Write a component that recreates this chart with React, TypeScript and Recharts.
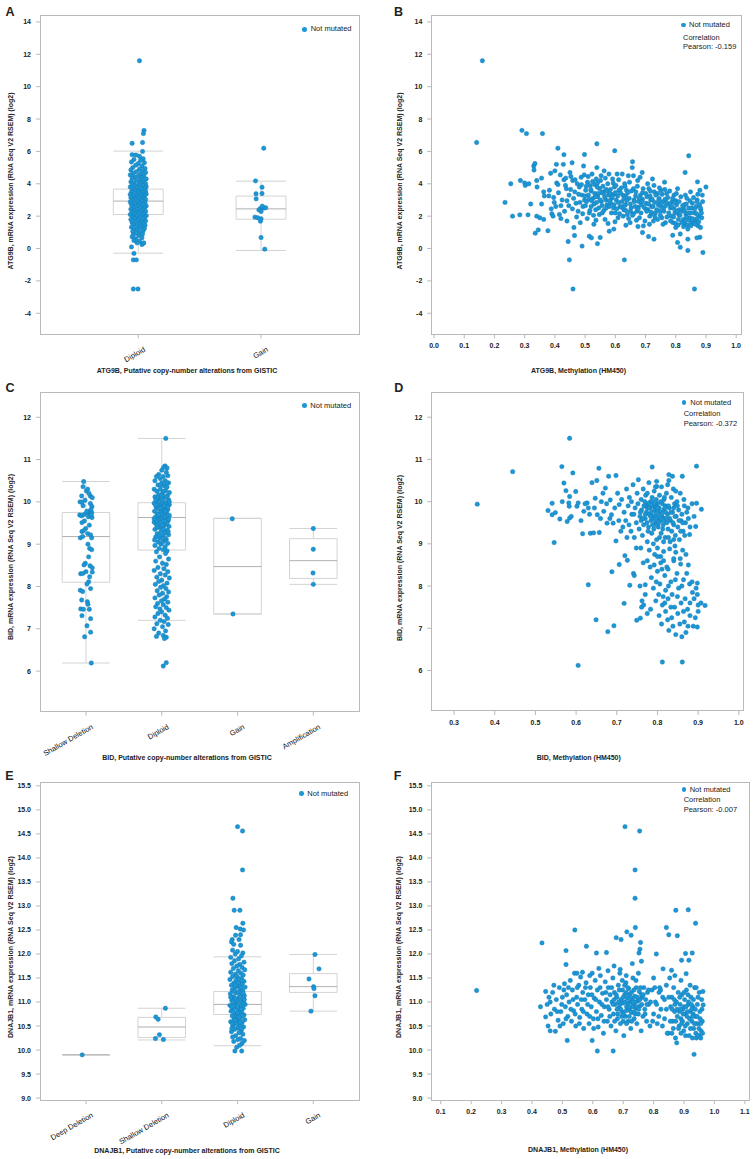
import React from "react";
import { ScatterChart, Scatter, XAxis, YAxis, ReferenceArea, ReferenceLine } from "recharts";

const FONT = "'Liberation Sans', Arial, Helvetica, sans-serif";
const DOT = "#1c97d6";
const DOT_EDGE = "#1479b4";
const FRAME = "#b9b9b9";
const BOX = "#d3d3d3";
const MED = "#b0b0b0";
const TXT = "#222";

type Pt = [number, number];

// ---------- Panel A: ATG9B by copy number ----------
const A_CATS = ["Diploid", "Gain"];
// [low whisker, q1, median, q3, high whisker]
const A_BOXES = [
  [-0.29, 2.1, 2.93, 3.67, 6.02],
  [-0.12, 1.81, 2.45, 3.24, 4.16],
];
const A_DIPLOID: Pt[] = [
  [0.01, 11.6], [0.047, 7.3], [0.042, 7.1], [-0.05, 6.5], [0.035, 6.55], [0.035, 6.0],
  [-0.05, 5.8], [-0.02, 5.78], [0.01, 5.7], [0.04, 5.55], [-0.035, 5.5], [0.02, 5.45], [-0.055, 5.35],
  [0.05, 5.3], [0.0, 5.25], [-0.02, 5.15], [0.03, 5.1], [-0.045, 5.0], [0.055, 4.95], [0.01, 4.9],
  [-0.06, 4.85], [0.035, 4.8], [-0.015, 4.75], [0.06, 4.7], [-0.04, 4.65], [0.02, 4.6], [-0.065, 4.55],
  [0.045, 4.5], [0.0, 4.48], [-0.03, 4.42], [0.03, 4.38], [-0.05, 4.33], [0.065, 4.3], [0.015, 4.25],
  [-0.015, 4.2], [0.045, 4.15], [-0.06, 4.12], [0.025, 4.08], [-0.035, 4.04], [0.06, 4.0], [0.005, 3.97],
  [-0.05, 3.93], [0.04, 3.9], [-0.02, 3.86], [0.065, 3.82], [-0.065, 3.8], [0.02, 3.77], [-0.01, 3.73],
  [0.05, 3.7], [-0.045, 3.67], [0.03, 3.63], [-0.025, 3.6], [0.06, 3.56], [0.0, 3.53], [-0.055, 3.5],
  [0.04, 3.47], [-0.03, 3.44], [0.015, 3.4], [0.065, 3.37], [-0.065, 3.34], [0.03, 3.3], [-0.01, 3.27],
  [0.05, 3.24], [-0.04, 3.2], [0.005, 3.17], [-0.06, 3.13], [0.045, 3.1], [-0.02, 3.07], [0.06, 3.03],
  [0.02, 3.0], [-0.045, 2.97], [0.035, 2.93], [-0.005, 2.9], [-0.065, 2.87], [0.055, 2.84], [0.015, 2.8],
  [-0.03, 2.77], [0.04, 2.73], [-0.055, 2.7], [0.0, 2.67], [0.065, 2.63], [-0.02, 2.6], [0.03, 2.57],
  [-0.045, 2.53], [0.05, 2.5], [0.01, 2.47], [-0.06, 2.43], [-0.01, 2.4], [0.04, 2.37], [-0.035, 2.33],
  [0.06, 2.3], [0.02, 2.27], [-0.05, 2.23], [0.0, 2.2], [0.045, 2.16], [-0.025, 2.13], [-0.065, 2.1],
  [0.03, 2.07], [0.065, 2.03], [-0.01, 2.0], [-0.045, 1.96], [0.015, 1.93], [0.05, 1.9], [-0.03, 1.86],
  [0.035, 1.82], [-0.06, 1.79], [0.0, 1.75], [0.06, 1.71], [-0.02, 1.68], [0.025, 1.64], [-0.05, 1.6],
  [0.045, 1.56], [0.005, 1.52], [-0.035, 1.48], [0.055, 1.44], [-0.01, 1.4], [0.03, 1.36], [-0.055, 1.32],
  [0.01, 1.28], [0.05, 1.24], [-0.03, 1.2], [-0.005, 1.15], [0.04, 1.1], [-0.045, 1.05], [0.02, 1.0],
  [-0.015, 0.95], [0.035, 0.9], [-0.04, 0.85], [0.005, 0.8], [-0.05, 0.72], [0.03, 0.66], [-0.02, 0.6],
  [-0.035, 0.5], [0.01, 0.45], [-0.01, 0.35], [0.04, 0.32], [-0.055, 0.1], [0.03, 0.25], [0.045, 0.35],
  [-0.035, -0.3], [-0.04, -0.7], [-0.015, -0.7], [-0.04, -2.5], [-0.002, -2.5],
];
const A_GAIN: Pt[] = [
  [0.022, 6.2], [-0.045, 4.18], [0.008, 3.79], [-0.041, 3.38], [0.008, 3.4], [-0.04, 3.07],
  [-0.005, 2.47], [-0.018, 2.39], [0.022, 2.5], [0.038, 2.52], [0.0, 2.29], [-0.05, 1.94],
  [-0.028, 1.9], [-0.005, 1.69], [0.0, 1.84], [0.0, 0.68], [0.03, -0.04], [0.01, 2.62],
];

// ---------- Panel B: ATG9B vs methylation ----------
const B_POINTS: Pt[] = [
  [0.16, 11.6], [0.141, 6.55], [0.291, 7.3], [0.306, 7.1], [0.359, 7.1],
  [0.235, 2.85], [0.254, 4.0], [0.26, 2.0], [0.284, 2.08], [0.286, 4.2], [0.3, 4.05], [0.302, 3.9],
  [0.314, 4.0], [0.311, 2.08], [0.32, 2.75], [0.33, 5.1], [0.334, 5.25], [0.331, 4.85], [0.335, 0.95],
  [0.34, 4.2], [0.341, 3.8], [0.34, 2.0], [0.345, 1.15], [0.35, 1.9], [0.356, 4.35], [0.356, 2.75],
  [0.363, 1.8], [0.363, 3.5], [0.365, 3.25], [0.377, 1.1], [0.38, 3.25], [0.386, 4.65], [0.39, 2.15],
  [0.394, 2.0], [0.398, 2.85], [0.4, 4.8], [0.405, 5.2], [0.41, 6.2], [0.406, 4.05], [0.41, 3.95],
  [0.415, 2.1], [0.42, 1.85], [0.42, 2.65], [0.428, 5.2], [0.43, 5.8], [0.43, 4.25], [0.436, 4.35],
  [0.435, 3.9], [0.44, 2.95], [0.44, 1.7], [0.444, 0.43], [0.448, -0.7], [0.45, 4.7], [0.453, 4.45],
  [0.457, 5.3], [0.459, 4.2], [0.46, -2.5], [0.463, 1.3], [0.465, 0.8], [0.49, 0.15],
  [0.63, -0.7], [0.862, -2.5], [0.89, -0.25], [0.84, -0.12], [0.831, 4.7], [0.843, 5.73], [0.872, 4.12],
  [0.9, 3.8], [0.598, 6.04], [0.539, 6.47], [0.657, 5.36], [0.498, 5.81],
  [0.541, 0.3], [0.514, 0.76], [0.521, 0.66], [0.55, 0.68], [0.58, 1.07], [0.595, 1.2], [0.635, 1.44],
  [0.675, 1.36], [0.69, 0.99], [0.71, 0.74], [0.728, 0.58], [0.79, 0.82], [0.806, 0.37], [0.815, 0.08],
  [0.84, 0.58], [0.88, 0.7], [0.87, 0.66],
  [0.462, 3.1], [0.466, 3.5], [0.47, 2.8], [0.474, 4.0], [0.477, 2.3], [0.481, 3.8], [0.484, 1.6],
  [0.487, 4.4], [0.49, 3.3], [0.493, 2.6], [0.495, 5.1], [0.498, 3.0],
  [0.502, 3.6], [0.505, 2.9], [0.508, 4.1], [0.511, 3.3], [0.514, 2.2], [0.517, 3.9], [0.52, 2.6],
  [0.523, 4.6], [0.526, 3.1], [0.529, 1.5], [0.532, 3.4], [0.535, 2.4], [0.537, 4.3], [0.539, 5.0],
  [0.542, 3.2], [0.545, 2.5], [0.548, 3.7], [0.551, 4.2], [0.554, 2.9], [0.557, 2.2], [0.56, 3.5],
  [0.563, 4.8], [0.566, 1.8], [0.569, 3.0], [0.572, 2.7], [0.575, 4.0], [0.578, 3.3],
  [0.582, 3.4], [0.585, 2.8], [0.588, 3.1], [0.591, 4.3], [0.594, 2.5], [0.597, 3.8], [0.6, 2.2],
  [0.603, 3.0], [0.606, 4.6], [0.609, 1.9], [0.612, 3.6], [0.616, 2.6],
  [0.622, 2.9], [0.625, 3.3], [0.628, 2.4], [0.631, 4.0], [0.634, 2.7], [0.637, 3.6], [0.64, 2.1],
  [0.643, 4.5], [0.646, 3.1], [0.649, 1.6], [0.652, 2.5], [0.656, 5.0],
  [0.662, 3.0], [0.665, 2.6], [0.668, 3.5], [0.671, 2.3], [0.674, 4.2], [0.677, 2.9], [0.68, 1.9],
  [0.683, 3.3], [0.686, 2.7], [0.689, 4.7], [0.693, 1.4],
  [0.702, 2.8], [0.705, 3.2], [0.708, 2.4], [0.711, 3.7], [0.714, 2.0], [0.717, 3.0], [0.72, 2.6],
  [0.723, 4.3], [0.726, 1.7], [0.729, 3.5], [0.733, 2.2],
  [0.742, 2.7], [0.745, 3.1], [0.748, 2.3], [0.751, 3.6], [0.754, 1.9], [0.757, 2.9], [0.76, 2.5],
  [0.763, 4.1], [0.766, 1.6], [0.77, 3.4],
  [0.782, 2.5], [0.785, 2.0], [0.788, 2.9], [0.791, 1.6], [0.794, 3.3], [0.797, 2.2], [0.8, 1.3],
  [0.803, 2.7], [0.806, 3.7], [0.809, 1.8], [0.812, 2.4], [0.815, 0.9],
  [0.822, 2.3], [0.825, 1.8], [0.828, 2.7], [0.831, 1.5], [0.834, 2.1], [0.837, 3.1], [0.84, 1.2],
  [0.843, 2.5], [0.846, 1.9], [0.849, 3.5], [0.852, 1.6], [0.855, 2.8],
  [0.862, 2.2], [0.865, 1.7], [0.868, 2.6], [0.871, 3.0], [0.874, 1.4], [0.877, 2.0], [0.88, 3.6],
  [0.883, 2.4], [0.886, 1.9], [0.889, 2.9],
  [0.5, 3.25], [0.52, 3.55], [0.54, 3.8], [0.555, 3.45], [0.565, 3.15], [0.58, 2.6], [0.595, 3.35],
  [0.61, 2.85], [0.62, 3.75], [0.635, 3.25], [0.65, 2.3], [0.66, 3.7], [0.675, 2.55], [0.69, 3.05],
  [0.7, 2.45], [0.715, 3.25], [0.73, 2.85], [0.75, 2.6], [0.765, 3.05], [0.78, 2.75], [0.795, 2.45],
  [0.81, 2.1], [0.825, 2.55], [0.835, 1.95], [0.85, 2.2], [0.86, 1.55], [0.53, 2.75], [0.57, 3.65],
  [0.6, 3.45], [0.63, 2.65], [0.66, 2.15], [0.69, 3.45], [0.72, 2.15], [0.74, 3.4], [0.77, 2.85],
  [0.8, 2.95], [0.83, 1.7], [0.87, 1.85],
];
const B_POINTS_MORE: Pt[] = [
  [0.382, 3.6], [0.388, 2.45], [0.396, 3.15], [0.403, 2.6], [0.412, 3.45], [0.418, 4.55], [0.424, 3.0],
  [0.432, 2.3], [0.438, 3.7], [0.446, 2.65], [0.447, 3.3],
  [0.452, 3.65], [0.458, 2.45], [0.467, 4.25], [0.472, 1.95], [0.479, 3.35], [0.483, 2.85], [0.488, 3.95],
  [0.492, 2.15], [0.497, 4.55], [0.501, 2.65], [0.504, 3.85], [0.507, 1.85], [0.51, 4.45], [0.513, 3.05],
  [0.516, 2.35], [0.519, 3.65], [0.522, 2.95], [0.525, 4.15], [0.528, 2.05], [0.531, 3.95], [0.534, 3.2],
  [0.536, 1.75], [0.538, 2.85], [0.541, 4.05], [0.544, 3.4], [0.547, 2.1], [0.55, 3.0], [0.553, 4.5],
  [0.556, 2.65], [0.559, 3.85], [0.562, 2.35], [0.564, 3.3], [0.567, 4.35], [0.57, 2.5], [0.573, 3.55],
  [0.576, 1.55], [0.579, 4.6], [0.581, 2.95], [0.584, 3.65], [0.587, 2.2], [0.59, 3.2], [0.593, 4.05],
  [0.596, 2.7], [0.599, 1.65], [0.602, 3.9], [0.605, 2.45], [0.608, 3.25], [0.611, 4.25], [0.614, 2.15],
  [0.617, 3.45], [0.62, 2.55], [0.623, 4.6], [0.626, 2.0], [0.629, 3.1], [0.632, 3.85], [0.635, 2.35],
  [0.638, 2.95], [0.641, 3.45], [0.644, 1.85], [0.647, 4.1], [0.65, 2.75], [0.653, 3.55], [0.657, 2.05],
  [0.66, 4.5], [0.663, 2.9], [0.667, 3.25], [0.67, 1.75], [0.673, 3.85], [0.676, 2.45], [0.679, 3.1],
  [0.682, 4.4], [0.685, 2.2], [0.688, 2.9], [0.692, 3.7], [0.695, 2.55], [0.698, 1.7], [0.701, 3.4],
  [0.704, 2.3], [0.707, 4.0], [0.71, 2.75], [0.713, 1.5], [0.716, 3.55], [0.719, 2.25], [0.722, 3.05],
  [0.725, 2.6], [0.728, 3.9], [0.731, 1.95], [0.734, 3.3], [0.737, 2.4], [0.74, 1.8], [0.743, 2.95],
  [0.746, 3.75], [0.749, 2.05], [0.752, 2.75], [0.755, 3.35], [0.758, 1.5], [0.761, 2.3], [0.764, 3.65],
  [0.767, 2.65], [0.771, 1.95], [0.774, 3.15], [0.777, 2.2], [0.78, 3.55], [0.783, 1.7], [0.787, 2.6],
  [0.79, 3.1], [0.793, 1.95], [0.796, 2.85], [0.799, 1.55], [0.802, 3.4], [0.805, 2.3], [0.808, 1.45],
  [0.811, 2.9], [0.814, 2.05], [0.817, 3.2], [0.82, 1.6], [0.823, 2.65], [0.826, 1.35], [0.829, 2.35],
  [0.832, 3.3], [0.835, 2.75], [0.838, 1.45], [0.841, 2.2], [0.844, 1.75], [0.847, 2.95], [0.85, 1.4],
  [0.853, 2.5], [0.856, 1.85], [0.859, 3.15], [0.863, 2.45], [0.866, 1.5], [0.869, 2.15], [0.873, 3.35],
  [0.876, 1.65], [0.879, 2.7], [0.882, 1.3], [0.885, 2.2], [0.888, 3.3], [0.882, 2.5], [0.87, 2.9],
];

// ---------- Panel C: BID by copy number ----------
const C_CATS = ["Shallow Deletion", "Diploid", "Gain", "Amplification"];
const C_BOXES = [
  [6.19, 8.1, 9.18, 9.75, 10.48],
  [7.2, 8.86, 9.63, 9.98, 11.5],
  [7.35, 7.35, 8.47, 9.61, 9.61],
  [8.05, 8.19, 8.61, 9.13, 9.37],
];
const C_SHALLOW: Pt[] = [
  [-0.031, 10.48], [-0.039, 10.36], [0.004, 10.26], [0.022, 10.3], [-0.057, 10.14], [0.057, 10.14],
  [0.083, 10.1], [-0.079, 10.0], [-0.053, 9.99], [-0.013, 10.04], [0.057, 9.96], [-0.039, 9.91],
  [0.079, 9.89], [-0.083, 9.69], [-0.057, 9.67], [-0.026, 9.7], [0.022, 9.74], [0.048, 9.77],
  [0.075, 9.75], [0.031, 9.65], [0.079, 9.63], [-0.053, 9.51], [0.044, 9.45], [-0.004, 9.37],
  [-0.053, 9.3], [-0.031, 9.32], [0.022, 9.25], [0.061, 9.22], [-0.075, 9.15], [-0.044, 9.18],
  [0.075, 9.15], [0.026, 9.0], [0.048, 8.9], [0.075, 8.87], [0.035, 8.7], [-0.009, 8.55],
  [-0.026, 8.51], [0.053, 8.49], [0.083, 8.44], [-0.07, 8.3], [-0.039, 8.31], [0.0, 8.35],
  [0.083, 8.34], [0.048, 8.23], [0.035, 8.11], [0.013, 8.06], [0.061, 7.95], [-0.075, 7.91],
  [-0.044, 7.88], [-0.057, 7.68], [0.018, 7.64], [0.026, 7.58], [-0.07, 7.47], [-0.035, 7.46],
  [0.044, 7.46], [-0.053, 7.31], [0.061, 7.24], [0.013, 7.07], [0.061, 6.92], [-0.018, 6.81],
  [0.07, 6.19], [0.065, 9.82], [-0.02, 9.55], [0.04, 10.2], [0.07, 9.7], [0.01, 9.78],
];
const C_DIPLOID: Pt[] = [
  [0.053, 11.5], [0.044, 10.85], [0.026, 10.82], [0.07, 10.8], [0.0, 10.75], [-0.04, 10.65],
  [0.06, 10.7], [-0.07, 10.6], [0.02, 10.6], [0.08, 10.62], [-0.02, 10.55], [0.045, 10.5],
  [-0.09, 10.5], [0.09, 10.45], [0.0, 10.45], [-0.05, 10.4], [0.03, 10.38], [0.07, 10.35],
  [-0.1, 10.3], [-0.02, 10.3], [0.05, 10.27], [-0.065, 10.25], [0.1, 10.22], [0.01, 10.2],
  [-0.04, 10.17], [0.075, 10.15], [-0.09, 10.12], [0.035, 10.1], [-0.015, 10.08], [0.09, 10.05],
  [-0.06, 10.03], [0.02, 10.0], [0.06, 9.98], [-0.1, 9.97], [-0.03, 9.95], [0.1, 9.93], [0.0, 9.9],
  [-0.075, 9.88], [0.045, 9.86], [-0.045, 9.84], [0.08, 9.82], [0.015, 9.8], [-0.095, 9.78],
  [-0.015, 9.76], [0.065, 9.74], [-0.06, 9.72], [0.03, 9.7], [0.1, 9.68], [-0.03, 9.66],
  [-0.085, 9.64], [0.05, 9.62], [0.0, 9.6], [-0.05, 9.58], [0.085, 9.56], [0.02, 9.54], [-0.1, 9.52],
  [-0.02, 9.5], [0.06, 9.48], [-0.07, 9.46], [0.035, 9.44], [0.095, 9.42], [-0.04, 9.4],
  [0.005, 9.38], [-0.09, 9.35], [0.07, 9.33], [-0.01, 9.3], [0.045, 9.27], [-0.06, 9.25],
  [0.09, 9.22], [0.015, 9.2], [-0.08, 9.17], [-0.025, 9.14], [0.06, 9.11], [0.03, 9.08],
  [-0.05, 9.05], [0.08, 9.02], [-0.01, 9.0], [-0.09, 8.97], [0.045, 8.94], [-0.035, 8.9],
  [0.02, 8.87], [0.07, 8.84], [-0.07, 8.82],
  [0.025, 10.25], [-0.055, 10.1], [0.055, 9.95], [-0.08, 9.92], [0.075, 9.88], [-0.005, 9.7],
  [0.04, 9.65], [-0.065, 9.55], [0.01, 9.45], [0.09, 9.6], [-0.035, 10.0], [0.06, 10.12],
  [-0.02, 9.85], [0.1, 10.0], [-0.1, 9.6], [0.03, 9.9], [0.07, 9.5], [-0.045, 9.7], [0.0, 10.15],
  [0.05, 9.78], [-0.08, 10.05], [0.085, 9.3], [-0.03, 9.2], [0.02, 9.35], [-0.06, 9.4], [0.04, 9.15],
  [-0.015, 10.4], [0.065, 10.45], [0.01, 9.05], [-0.095, 9.1],
  [0.05, 8.78], [-0.03, 8.7], [0.09, 8.65], [-0.08, 8.6], [0.01, 8.55], [0.06, 8.52], [-0.05, 8.45],
  [0.03, 8.42], [-0.1, 8.38], [0.08, 8.35], [-0.02, 8.3], [0.045, 8.27], [-0.065, 8.22], [0.1, 8.2],
  [0.0, 8.15], [-0.04, 8.12], [0.07, 8.08], [-0.085, 8.05], [0.025, 8.02], [-0.015, 7.98],
  [0.055, 7.95], [-0.06, 7.9], [0.09, 7.87], [0.01, 7.84], [-0.035, 7.8], [0.065, 7.76],
  [-0.09, 7.73], [0.035, 7.7], [-0.005, 7.66], [0.08, 7.63], [-0.055, 7.6], [0.02, 7.57],
  [-0.08, 7.52], [0.06, 7.5], [-0.025, 7.47], [0.095, 7.44], [0.0, 7.4], [-0.05, 7.36],
  [0.045, 7.32], [-0.09, 7.28], [0.075, 7.25], [-0.02, 7.2], [0.03, 7.17], [-0.065, 7.12],
  [0.085, 7.1], [0.01, 7.05], [-0.1, 7.0], [0.05, 6.95], [-0.04, 6.9], [0.02, 6.84], [0.06, 6.8],
  [-0.07, 6.82], [0.035, 6.77], [0.06, 6.2], [0.02, 6.12],
];
const C_GAIN: Pt[] = [[-0.07, 9.6], [-0.06, 7.35]];
const C_AMP: Pt[] = [[0.0, 9.37], [0.0, 8.88], [-0.004, 8.32], [0.0, 8.05]];

// ---------- Panel D: BID vs methylation ----------
const D_POINTS: Pt[] = [
  [0.357, 9.94], [0.444, 10.71], [0.584, 11.5], [0.605, 6.12], [0.812, 6.2], [0.861, 6.2],
  [0.546, 9.03], [0.63, 8.03], [0.649, 7.2], [0.678, 6.92], [0.693, 7.06], [0.718, 7.59],
  [0.688, 8.34], [0.706, 8.51], [0.72, 8.72], [0.726, 8.61], [0.732, 8.02], [0.741, 8.3],
  [0.743, 8.25], [0.749, 7.19], [0.758, 7.24], [0.761, 7.5], [0.766, 7.55], [0.77, 8.03],
  [0.775, 7.35], [0.698, 9.07], [0.748, 8.9], [0.759, 8.9],
  [0.531, 9.79], [0.541, 9.96], [0.541, 9.69], [0.549, 9.74], [0.56, 9.59], [0.565, 10.83],
  [0.57, 10.44], [0.566, 10.0], [0.575, 10.26], [0.584, 10.12], [0.582, 9.97], [0.583, 9.89],
  [0.578, 9.53], [0.584, 9.61], [0.588, 9.65], [0.592, 10.68], [0.599, 10.24], [0.602, 9.89],
  [0.605, 9.97], [0.616, 9.24], [0.619, 9.77], [0.627, 9.97], [0.63, 9.85], [0.635, 9.25],
  [0.639, 10.45], [0.643, 9.26], [0.647, 10.08], [0.651, 10.5], [0.656, 10.79], [0.657, 9.27],
  [0.652, 9.69], [0.662, 10.0], [0.668, 9.77], [0.672, 10.32], [0.676, 9.49], [0.68, 10.6],
  [0.684, 10.04], [0.687, 9.69], [0.691, 9.49], [0.698, 10.62], [0.702, 10.2], [0.706, 9.93],
  [0.71, 9.3],
  [0.722, 9.55], [0.728, 9.9], [0.731, 10.1], [0.735, 9.3], [0.737, 9.7], [0.74, 10.4], [0.743, 9.15],
  [0.745, 9.85], [0.748, 9.5], [0.75, 10.2], [0.752, 9.95], [0.755, 9.35], [0.757, 9.65], [0.76, 10.05],
  [0.761, 9.8], [0.763, 9.2], [0.765, 10.3], [0.766, 9.45], [0.768, 9.9], [0.77, 9.6], [0.771, 10.15],
  [0.773, 9.75], [0.775, 9.05], [0.776, 9.95], [0.778, 9.4], [0.779, 10.45], [0.78, 9.7], [0.782, 9.85],
  [0.783, 10.0], [0.784, 9.55], [0.786, 9.25], [0.787, 10.1], [0.788, 9.65], [0.79, 9.9], [0.791, 9.35],
  [0.792, 10.25], [0.793, 9.8], [0.795, 9.5], [0.796, 9.7], [0.797, 10.05], [0.798, 9.1], [0.8, 9.95],
  [0.801, 9.6], [0.802, 9.4], [0.804, 9.85], [0.805, 10.15], [0.806, 9.75], [0.807, 9.55], [0.809, 9.25],
  [0.81, 10.35], [0.811, 9.65], [0.812, 9.95], [0.814, 9.45], [0.815, 9.8], [0.816, 10.05], [0.818, 9.6],
  [0.819, 9.15], [0.82, 9.9], [0.822, 10.2], [0.823, 9.5], [0.825, 9.7], [0.826, 9.35], [0.828, 10.5],
  [0.829, 9.85], [0.831, 9.05], [0.832, 9.55], [0.834, 10.1], [0.835, 9.3], [0.837, 9.75], [0.839, 10.3],
  [0.84, 9.45], [0.842, 9.95], [0.844, 9.2], [0.846, 9.65], [0.848, 10.0], [0.85, 9.4], [0.852, 9.8],
  [0.854, 9.1], [0.856, 10.2], [0.858, 9.55], [0.86, 9.7], [0.863, 9.3], [0.866, 9.9], [0.869, 9.5],
  [0.872, 9.75], [0.876, 9.6], [0.88, 9.4], [0.885, 9.95], [0.89, 9.65],
  [0.775, 9.85], [0.785, 9.75], [0.795, 9.9], [0.805, 9.65], [0.815, 9.55], [0.79, 9.6], [0.8, 9.8],
  [0.81, 9.7], [0.78, 9.95], [0.82, 9.75], [0.77, 9.7], [0.83, 9.6], [0.76, 9.55], [0.84, 9.85],
  [0.797, 9.45], [0.787, 10.0], [0.817, 10.1], [0.777, 9.3], [0.827, 9.15], [0.767, 9.9],
  [0.787, 10.82], [0.828, 10.64], [0.837, 10.6], [0.861, 10.6], [0.896, 10.84], [0.798, 10.48],
  [0.753, 10.52], [0.798, 10.36], [0.908, 9.82], [0.896, 9.96], [0.894, 9.41], [0.879, 9.22],
  [0.78, 8.85], [0.8, 8.9], [0.815, 8.82], [0.83, 8.88], [0.845, 8.8], [0.862, 8.85], [0.775, 8.6],
  [0.792, 8.5], [0.808, 8.55], [0.823, 8.45], [0.84, 8.6], [0.857, 8.52], [0.872, 8.3], [0.785, 8.2],
  [0.8, 8.35], [0.818, 8.25], [0.833, 8.1], [0.848, 8.3], [0.864, 8.15], [0.879, 8.05], [0.79, 7.95],
  [0.806, 8.05], [0.82, 7.9], [0.836, 7.8], [0.852, 7.95], [0.868, 7.7], [0.886, 7.85], [0.796, 7.65],
  [0.812, 7.55], [0.826, 7.7], [0.842, 7.5], [0.858, 7.6], [0.874, 7.45], [0.89, 7.7], [0.804, 7.3],
  [0.82, 7.4], [0.835, 7.25], [0.85, 7.35], [0.866, 7.15], [0.88, 7.3], [0.81, 7.1], [0.828, 6.95],
  [0.845, 6.85], [0.86, 6.8], [0.875, 7.05], [0.9, 7.55], [0.907, 7.6], [0.895, 7.95], [0.885, 8.1],
  [0.9, 7.4], [0.888, 7.05], [0.838, 7.05], [0.814, 7.75], [0.826, 8.4], [0.856, 8.65], [0.87, 8.75],
  [0.843, 8.95], [0.808, 8.7], [0.793, 8.75], [0.765, 8.55], [0.757, 8.0], [0.77, 7.8], [0.783, 7.45],
  [0.762, 7.65], [0.898, 8.07], [0.898, 7.8], [0.917, 7.54], [0.898, 7.03],
];
const D_POINTS_MORE: Pt[] = [
  [0.612, 9.55], [0.622, 9.95], [0.633, 9.7], [0.645, 9.85], [0.66, 9.6], [0.666, 10.2], [0.675, 9.95],
  [0.683, 9.6], [0.695, 9.85], [0.705, 9.55], [0.712, 10.05], [0.718, 9.75], [0.724, 10.3], [0.73, 9.45],
  [0.736, 10.0], [0.742, 9.7], [0.715, 9.4], [0.725, 9.15],
  [0.758, 9.75], [0.764, 9.6], [0.769, 10.0], [0.774, 9.5], [0.779, 9.85], [0.783, 9.65], [0.788, 9.45],
  [0.792, 9.95], [0.796, 9.6], [0.799, 9.85], [0.803, 9.5], [0.808, 10.0], [0.813, 9.35], [0.818, 9.85],
  [0.822, 9.6], [0.827, 9.9], [0.833, 9.75], [0.838, 9.5], [0.843, 9.65], [0.849, 9.9], [0.853, 9.55],
  [0.857, 9.3], [0.862, 9.5], [0.867, 9.2], [0.84, 9.1], [0.815, 9.05], [0.79, 9.0], [0.805, 9.15],
  [0.775, 10.2], [0.795, 10.35], [0.825, 10.4], [0.845, 10.25], [0.865, 10.05], [0.875, 9.85],
  [0.782, 8.45], [0.797, 8.1], [0.811, 8.4], [0.827, 8.0], [0.844, 8.15], [0.86, 8.0], [0.876, 8.5],
  [0.803, 7.8], [0.818, 7.6], [0.833, 7.5], [0.849, 7.75], [0.864, 7.4], [0.88, 7.6], [0.825, 7.2],
  [0.855, 7.1], [0.87, 6.9], [0.893, 7.25], [0.84, 8.65], [0.815, 8.6], [0.8, 8.7],
];

// ---------- Panel E: DNAJB1 by copy number ----------
const E_CATS = ["Deep Deletion", "Shallow Deletion", "Diploid", "Gain"];
const E_BOXES = [
  [9.9, 9.9, 9.9, 9.9, 9.9],
  [10.21, 10.26, 10.48, 10.68, 10.87],
  [10.09, 10.74, 10.95, 11.22, 11.94],
  [10.81, 11.2, 11.32, 11.59, 11.99],
];
const E_DEEP: Pt[] = [[-0.05, 9.9]];
const E_SHALLOW: Pt[] = [[0.048, 10.87], [-0.079, 10.69], [-0.048, 10.64], [-0.031, 10.32], [-0.083, 10.24], [0.022, 10.22]];
const E_DIPLOID: Pt[] = [
  [0.0, 14.65], [0.066, 14.56], [0.066, 13.75], [-0.061, 13.16], [-0.044, 12.91], [0.031, 12.91],
  [0.07, 12.64], [-0.018, 12.55], [0.079, 12.5], [0.035, 12.52], [-0.026, 12.39], [0.04, 12.4],
  [-0.07, 12.3], [-0.08, 12.25], [0.02, 12.3], [-0.05, 12.2], [0.04, 12.18], [-0.065, 12.08],
  [0.0, 12.05], [0.07, 12.02], [-0.03, 12.0], [0.05, 11.96], [-0.09, 11.93], [0.015, 11.9],
  [-0.04, 11.86], [0.085, 11.83], [-0.075, 11.8], [0.03, 11.78], [-0.01, 11.75], [0.06, 11.72],
  [-0.055, 11.7], [0.095, 11.67], [0.01, 11.65], [-0.09, 11.62], [0.045, 11.6], [-0.03, 11.58],
  [0.075, 11.56], [-0.065, 11.53], [0.0, 11.51], [0.05, 11.49], [-0.1, 11.47], [-0.02, 11.45],
  [0.085, 11.43], [0.025, 11.41], [-0.05, 11.39], [0.06, 11.37], [-0.08, 11.35], [0.0, 11.33],
  [0.1, 11.31], [-0.035, 11.29], [0.04, 11.27], [-0.07, 11.25], [0.07, 11.23], [0.015, 11.21],
  [-0.015, 11.19], [-0.095, 11.17], [0.055, 11.15], [0.09, 11.13], [-0.05, 11.11], [0.02, 11.09],
  [-0.025, 11.07], [0.065, 11.05], [-0.075, 11.03], [0.0, 11.01], [0.035, 10.99], [-0.04, 10.97],
  [0.1, 10.95], [-0.1, 10.93], [0.045, 10.91], [-0.01, 10.89], [0.075, 10.87], [-0.06, 10.85],
  [0.01, 10.83], [-0.085, 10.81], [0.055, 10.79], [0.025, 10.77], [-0.03, 10.75], [0.085, 10.73],
  [-0.07, 10.71], [-0.005, 10.69], [0.04, 10.67], [-0.045, 10.65], [0.095, 10.63], [0.015, 10.61],
  [-0.09, 10.59], [0.06, 10.57], [-0.02, 10.55], [0.03, 10.52], [-0.06, 10.5], [0.08, 10.48],
  [0.0, 10.46], [-0.04, 10.43], [0.05, 10.41], [-0.08, 10.38], [0.02, 10.36], [0.07, 10.33],
  [-0.025, 10.3], [-0.065, 10.27], [0.04, 10.24], [0.005, 10.22], [0.09, 10.2], [-0.05, 10.18],
  [0.06, 10.14], [0.03, 10.1], [-0.01, 10.06], [-0.035, 9.98], [0.055, 9.98],
  [0.03, 11.12], [-0.06, 11.0], [0.08, 10.98], [-0.02, 10.92], [0.05, 10.85], [-0.08, 10.9],
  [0.0, 10.78], [0.065, 10.72], [-0.035, 10.62], [0.02, 10.68], [-0.07, 10.55], [0.04, 11.3],
  [-0.045, 11.22], [0.09, 11.05], [0.01, 11.4], [-0.09, 11.1], [0.06, 11.45], [-0.015, 11.55],
  [0.035, 10.58], [-0.055, 10.8], [0.075, 11.18], [0.0, 10.9], [-0.03, 11.35], [0.045, 10.45],
  [-0.075, 10.45],
];
const E_GAIN: Pt[] = [[0.022, 11.99], [0.075, 11.69], [-0.057, 11.48], [0.004, 11.32], [0.009, 11.28], [0.022, 11.13], [-0.031, 10.81]];

// ---------- Panel F: DNAJB1 vs methylation ----------
const F_POINTS: Pt[] = [
  [0.218, 11.24], [0.433, 12.23], [0.541, 12.5], [0.512, 12.07], [0.512, 11.78], [0.579, 12.16],
  [0.612, 12.02], [0.645, 12.03], [0.706, 14.65], [0.754, 14.56], [0.739, 13.75], [0.739, 13.16],
  [0.873, 12.91], [0.914, 12.92], [0.938, 12.64], [0.74, 12.55], [0.712, 12.46], [0.726, 12.39],
  [0.677, 12.34], [0.693, 12.3], [0.842, 12.55], [0.85, 12.4], [0.878, 12.38], [0.757, 12.24],
  [0.755, 12.1], [0.752, 12.02], [0.809, 12.0], [0.905, 12.01], [0.927, 12.02], [0.892, 11.87],
  [0.916, 11.87], [0.859, 11.66], [0.831, 11.69], [0.907, 11.59], [0.516, 10.2], [0.598, 10.2],
  [0.615, 9.98], [0.667, 9.98], [0.933, 9.91], [0.46, 10.4], [0.428, 10.9], [0.445, 10.69],
  [0.453, 10.5], [0.477, 10.39],
  [0.445, 11.22], [0.45, 10.95], [0.456, 11.1], [0.462, 10.75], [0.468, 11.2], [0.474, 10.85],
  [0.48, 11.05], [0.486, 10.62], [0.49, 11.3], [0.495, 10.8], [0.5, 11.1], [0.503, 10.55],
  [0.507, 11.38], [0.51, 10.9], [0.514, 11.15], [0.518, 10.7], [0.522, 11.0], [0.526, 11.45],
  [0.53, 10.6], [0.533, 11.25], [0.537, 10.82], [0.54, 11.6], [0.544, 10.5], [0.547, 11.1],
  [0.55, 10.95], [0.554, 11.35], [0.557, 10.68], [0.56, 11.52], [0.564, 10.85], [0.567, 11.2],
  [0.57, 10.45], [0.574, 11.05], [0.578, 11.4], [0.581, 10.75], [0.585, 11.15], [0.588, 10.55],
  [0.592, 11.3], [0.595, 10.9], [0.598, 11.6], [0.602, 10.65], [0.605, 11.08], [0.608, 11.45],
  [0.612, 10.8], [0.615, 11.25], [0.618, 10.48], [0.622, 11.0], [0.625, 11.55], [0.628, 10.72],
  [0.632, 11.18], [0.635, 10.35], [0.638, 10.9], [0.641, 11.42],
  [0.645, 11.05], [0.648, 10.6], [0.651, 11.3], [0.654, 10.85], [0.657, 11.15], [0.66, 10.5],
  [0.663, 11.0], [0.666, 11.5], [0.668, 10.75], [0.671, 11.2], [0.674, 10.95], [0.676, 10.4],
  [0.679, 11.1], [0.681, 10.65], [0.684, 11.35], [0.686, 10.88], [0.689, 11.6], [0.691, 10.55],
  [0.693, 11.05], [0.696, 10.8], [0.698, 11.25], [0.7, 10.98], [0.702, 10.3], [0.705, 11.15],
  [0.707, 10.7], [0.709, 11.4], [0.711, 10.9], [0.714, 11.08], [0.716, 10.6], [0.718, 11.28],
  [0.72, 10.85], [0.723, 11.0], [0.725, 10.45], [0.727, 11.2], [0.729, 10.78], [0.732, 11.5],
  [0.734, 10.95], [0.736, 10.65], [0.738, 11.12], [0.741, 10.88], [0.743, 11.3], [0.745, 10.55],
  [0.748, 11.02], [0.75, 10.75], [0.753, 11.22], [0.756, 10.92], [0.759, 10.4], [0.762, 11.1],
  [0.765, 10.7], [0.768, 11.3], [0.771, 10.85], [0.774, 11.05], [0.777, 10.6], [0.78, 11.2],
  [0.784, 10.95], [0.788, 10.5],
  [0.69, 10.95], [0.7, 11.1], [0.71, 10.82], [0.72, 11.15], [0.73, 10.9], [0.74, 11.0], [0.695, 10.7],
  [0.705, 11.35], [0.715, 10.98], [0.725, 10.8], [0.735, 11.25], [0.745, 10.9], [0.755, 11.05],
  [0.68, 10.85], [0.67, 11.05], [0.7, 10.6], [0.72, 10.7], [0.74, 10.75], [0.76, 11.15], [0.71, 11.2],
  [0.73, 11.05], [0.685, 11.0],
  [0.795, 11.25], [0.8, 10.75], [0.806, 11.0], [0.812, 10.55], [0.818, 11.2], [0.824, 10.85],
  [0.83, 11.1], [0.836, 10.65], [0.842, 11.35], [0.848, 10.35], [0.853, 11.5], [0.845, 10.35],
  [0.856, 10.9], [0.86, 11.1], [0.863, 10.6], [0.866, 11.3], [0.869, 10.8], [0.872, 10.25],
  [0.875, 11.0], [0.878, 10.7], [0.881, 11.2], [0.884, 10.5], [0.887, 10.95], [0.89, 10.65],
  [0.893, 11.15], [0.896, 10.85], [0.899, 10.4], [0.902, 11.05], [0.905, 10.75], [0.908, 11.25],
  [0.911, 10.55], [0.914, 10.95], [0.917, 10.3], [0.92, 10.8], [0.923, 11.1], [0.926, 10.6],
  [0.929, 10.9], [0.932, 10.45], [0.935, 11.3], [0.938, 10.7], [0.941, 10.25], [0.944, 10.95],
  [0.947, 10.55], [0.95, 11.2], [0.953, 10.65], [0.956, 10.4], [0.959, 10.85], [0.962, 11.22],
  [0.96, 10.6], [0.95, 10.3], [0.94, 10.55], [0.93, 10.75], [0.915, 11.0], [0.9, 10.9], [0.885, 10.8],
  [0.87, 10.95], [0.895, 10.6], [0.91, 10.7], [0.925, 10.85], [0.963, 10.94],
];
const F_POINTS_MORE: Pt[] = [
  [0.46, 11.0], [0.472, 11.35], [0.483, 10.8], [0.492, 10.5], [0.498, 10.95], [0.505, 11.25],
  [0.512, 10.65], [0.52, 11.3], [0.528, 10.85], [0.535, 11.05], [0.542, 10.75], [0.549, 11.3],
  [0.556, 10.55], [0.562, 11.05], [0.569, 10.8], [0.576, 11.3], [0.583, 10.95], [0.59, 10.7],
  [0.597, 11.15], [0.603, 10.45], [0.61, 11.05], [0.617, 10.65], [0.624, 11.3], [0.63, 10.95],
  [0.637, 10.6], [0.643, 11.2], [0.65, 10.9], [0.656, 10.7], [0.662, 11.3], [0.667, 10.95],
  [0.672, 10.6], [0.677, 11.15], [0.682, 10.75], [0.687, 11.25], [0.692, 10.85], [0.697, 11.45],
  [0.701, 10.75], [0.706, 11.0], [0.711, 10.55], [0.715, 11.3], [0.719, 10.9], [0.724, 11.1],
  [0.728, 10.6], [0.733, 11.0], [0.737, 10.8], [0.742, 11.45], [0.746, 11.1], [0.751, 10.85],
  [0.757, 11.3], [0.761, 10.95], [0.766, 11.15], [0.772, 10.75], [0.778, 10.95], [0.783, 11.25],
  [0.79, 11.0], [0.797, 10.6], [0.804, 11.3], [0.81, 10.95], [0.817, 10.7], [0.823, 11.25],
  [0.829, 10.5], [0.836, 11.05], [0.842, 10.85], [0.85, 11.1], [0.855, 10.6], [0.861, 10.85],
  [0.865, 10.45], [0.868, 11.05], [0.873, 10.6], [0.877, 10.85], [0.882, 10.45], [0.886, 11.1],
  [0.889, 10.85], [0.892, 10.55], [0.897, 10.75], [0.9, 11.2], [0.904, 10.5], [0.907, 10.9],
  [0.911, 10.8], [0.913, 11.15], [0.918, 10.65], [0.921, 10.45], [0.924, 10.95], [0.928, 10.7],
  [0.931, 11.05], [0.934, 10.55], [0.937, 10.85], [0.939, 10.35], [0.943, 10.7], [0.946, 11.1],
  [0.949, 10.45], [0.952, 10.8], [0.955, 10.55], [0.958, 11.05], [0.961, 10.35], [0.955, 10.25],
  [0.945, 10.3], [0.928, 10.25], [0.905, 10.3], [0.89, 10.35], [0.876, 10.15], [0.86, 10.35],
  [0.548, 11.6], [0.566, 11.62], [0.59, 11.55], [0.62, 11.7], [0.65, 11.65], [0.67, 11.75],
  [0.69, 11.68], [0.71, 11.55], [0.73, 11.8], [0.75, 11.6], [0.76, 11.85], [0.8, 11.5], [0.82, 11.3],
  [0.87, 11.55], [0.89, 11.45], [0.92, 11.35], [0.94, 11.3],
];

const INT_TICKS_A = [-4, -2, 0, 2, 4, 6, 8, 10, 12, 14];
const INT_TICKS_C = [6, 7, 8, 9, 10, 11, 12];
const HALF_TICKS_E = [9.0, 9.5, 10.0, 10.5, 11.0, 11.5, 12.0, 12.5, 13.0, 13.5, 14.0, 14.5, 15.0, 15.5];
const B_XTICKS = [0, 0.1, 0.2, 0.3, 0.4, 0.5, 0.6, 0.7, 0.8, 0.9, 1.0];
const D_XTICKS = [0.3, 0.4, 0.5, 0.6, 0.7, 0.8, 0.9, 1.0];
const F_XTICKS = [0.1, 0.2, 0.3, 0.4, 0.5, 0.6, 0.7, 0.8, 0.9, 1.0, 1.1];

const strip = (groups: Pt[][]) =>
  groups.flatMap((g, i) => g.map(([dx, y]) => ({ x: i + dx, y })));
const scatter = (pts: Pt[]) => pts.map(([x, y]) => ({ x, y }));

function Dot(props: any) {
  const { cx, cy } = props;
  if (cx == null || cy == null) return null;
  return <circle cx={cx} cy={cy} r={2.2} fill={DOT} stroke={DOT_EDGE} strokeWidth={0.45} />;
}

// category labels, slanted 30 degrees and ending just right of the tick
function CatTick(props: any) {
  const { x, y, payload, labels } = props;
  return (
    <g transform={`translate(${x + 5}, ${y + 3}) rotate(-30)`}>
      <text x={0} y={0} dy="0.71em" textAnchor="end" fontSize={7.5} fontFamily={FONT} fill="#111">
        {labels[payload.value]}
      </text>
    </g>
  );
}

function boxShapes(boxes: number[][], hw: number) {
  const out: React.ReactNode[] = [];
  boxes.forEach(([lo, q1, med, q3, hi], i) => {
    out.push(<ReferenceLine key={`wl${i}`} segment={[{ x: i, y: lo }, { x: i, y: q1 }]} stroke={BOX} />);
    out.push(<ReferenceLine key={`wh${i}`} segment={[{ x: i, y: q3 }, { x: i, y: hi }]} stroke={BOX} />);
    out.push(<ReferenceArea key={`b${i}`} x1={i - hw} x2={i + hw} y1={q1} y2={q3} fill="none" stroke={BOX} />);
    out.push(<ReferenceLine key={`lo${i}`} segment={[{ x: i - hw, y: lo }, { x: i + hw, y: lo }]} stroke={BOX} />);
    out.push(<ReferenceLine key={`hi${i}`} segment={[{ x: i - hw, y: hi }, { x: i + hw, y: hi }]} stroke={BOX} />);
    out.push(<ReferenceLine key={`md${i}`} segment={[{ x: i - hw, y: med }, { x: i + hw, y: med }]} stroke={MED} />);
  });
  return out;
}

type PanelProps = {
  ox: number; oy: number; w: number; h: number;
  fl: number; ft: number; fr: number; fb: number;
  xDomain: [number, number]; yDomain: [number, number];
  xTicks: number[]; yTicks: number[];
  yFmt: (v: number) => string;
  cats?: string[];
  boxes?: number[][]; boxHalf?: number;
  data: { x: number; y: number }[];
};

function Panel(p: PanelProps) {
  const numTick = { fill: TXT, fontSize: 7, fontWeight: "bold", fontFamily: FONT };
  return (
    <div style={{ position: "absolute", left: p.ox, top: p.oy, width: p.w, height: p.h }}>
      <ScatterChart width={p.w} height={p.h} margin={{ top: p.ft, right: p.w - p.fr, bottom: 0, left: 0 }}>
        <XAxis type="number" dataKey="x" domain={p.xDomain} ticks={p.xTicks} allowDataOverflow
          height={p.h - p.fb} axisLine={false} tickLine={{ stroke: FRAME }} tickSize={4} tickMargin={5}
          interval={0}
          tick={p.cats ? (t: any) => <CatTick {...t} labels={p.cats} /> : numTick}
          tickFormatter={(v: number) => v.toFixed(1)} />
        <YAxis type="number" dataKey="y" domain={p.yDomain} ticks={p.yTicks} allowDataOverflow
          width={p.fl} axisLine={false} tickLine={{ stroke: FRAME }} tickSize={4} tickMargin={5}
          interval={0} tick={numTick} tickFormatter={p.yFmt} />
        {p.boxes ? boxShapes(p.boxes, p.boxHalf ?? 0.2) : null}
        <Scatter data={p.data} shape={Dot} isAnimationActive={false} />
      </ScatterChart>
      <div style={{
        position: "absolute", left: p.fl - 0.5, top: p.ft - 0.5, width: p.fr - p.fl + 1, height: p.fb - p.ft + 1,
        border: `1px solid ${FRAME}`, boxSizing: "border-box", pointerEvents: "none",
      }} />
    </div>
  );
}

function Txt({ x, y, children, size = 7, bold = false, rotate = false, align = "center" }: any) {
  const tx = align === "center" ? "-50%" : "0";
  return (
    <div style={{
      position: "absolute", left: x, top: y, whiteSpace: "nowrap", fontFamily: FONT, fontSize: size,
      fontWeight: bold ? "bold" : "normal", color: TXT, lineHeight: 1,
      transform: `translate(${tx}, -50%)${rotate ? " rotate(-90deg)" : ""}`,
      transformOrigin: rotate ? "center" : undefined,
    }}>{children}</div>
  );
}

function LegendDot({ x, y }: { x: number; y: number }) {
  return (
    <div style={{
      position: "absolute", left: x - 2.3, top: y - 2.3, width: 4.6, height: 4.6, borderRadius: "50%",
      background: DOT,
    }} />
  );
}

export default function App() {
  const intFmt = (v: number) => String(v);
  const halfFmt = (v: number) => v.toFixed(1);
  return (
    <div style={{ position: "absolute", left: 0, top: 0, width: 756, height: 1159, background: "#fff", overflow: "hidden" }}>
      {/* A */}
      <Panel ox={0} oy={0} w={378} h={385} fl={40} ft={15.3} fr={359.3} fb={334.3}
        xDomain={[-0.8, 1.8]} yDomain={[-5.3, 14.41]} xTicks={[0, 1]} yTicks={INT_TICKS_A} yFmt={intFmt}
        cats={A_CATS} boxes={A_BOXES} boxHalf={0.203} data={strip([A_DIPLOID, A_GAIN])} />
      {/* B */}
      <Panel ox={378} oy={0} w={378} h={385} fl={53.3} ft={15.3} fr={363.3} fb={334.3}
        xDomain={[-0.009, 1.017]} yDomain={[-5.3, 14.41]} xTicks={B_XTICKS} yTicks={INT_TICKS_A} yFmt={intFmt}
        data={scatter([...B_POINTS, ...B_POINTS_MORE])} />
      {/* C */}
      <Panel ox={0} oy={385} w={378} h={385} fl={40} ft={7.3} fr={359.3} fb={326.7}
        xDomain={[-0.607, 3.607]} yDomain={[5.04, 12.59]} xTicks={[0, 1, 2, 3]} yTicks={INT_TICKS_C} yFmt={intFmt}
        cats={C_CATS} boxes={C_BOXES} boxHalf={0.314} data={strip([C_SHALLOW, C_DIPLOID, C_GAIN, C_AMP])} />
      {/* D */}
      <Panel ox={378} oy={385} w={378} h={385} fl={53.3} ft={7.3} fr={365.7} fb={326}
        xDomain={[0.244, 1.012]} yDomain={[5.04, 12.59]} xTicks={D_XTICKS} yTicks={INT_TICKS_C} yFmt={intFmt}
        data={scatter([...D_POINTS, ...D_POINTS_MORE])} />
      {/* E */}
      <Panel ox={0} oy={770} w={378} h={389} fl={40} ft={12} fr={359.3} fb={330}
        xDomain={[-0.607, 3.607]} yDomain={[8.96, 15.58]} xTicks={[0, 1, 2, 3]} yTicks={HALF_TICKS_E} yFmt={halfFmt}
        cats={E_CATS} boxes={E_BOXES} boxHalf={0.314} data={strip([E_DEEP, E_SHALLOW, E_DIPLOID, E_GAIN])} />
      {/* F */}
      <Panel ox={378} oy={770} w={378} h={389} fl={53.3} ft={12} fr={371.7} fb={330}
        xDomain={[0.069, 1.116]} yDomain={[8.96, 15.58]} xTicks={F_XTICKS} yTicks={HALF_TICKS_E} yFmt={halfFmt}
        data={scatter([...F_POINTS, ...F_POINTS_MORE])} />

      {/* panel letters */}
      <Txt x={10} y={11.7} size={12.5} bold>A</Txt>
      <Txt x={398.5} y={11.7} size={12.5} bold>B</Txt>
      <Txt x={10} y={388} size={12.5} bold>C</Txt>
      <Txt x={398.8} y={388} size={12.5} bold>D</Txt>
      <Txt x={9.5} y={775.5} size={12.5} bold>E</Txt>
      <Txt x={397.5} y={775.5} size={12.5} bold>F</Txt>

      {/* axis titles */}
      <Txt x={10} y={181} bold rotate>ATG9B, mRNA expression (RNA Seq V2 RSEM) (log2)</Txt>
      <Txt x={398.7} y={181} bold rotate>ATG9B, mRNA expression (RNA Seq V2 RSEM) (log2)</Txt>
      <Txt x={187} y={370} bold>ATG9B, Putative copy-number alterations from GISTIC</Txt>
      <Txt x={578.5} y={370} bold>ATG9B, Methylation (HM450)</Txt>

      <Txt x={10} y={557} bold rotate>BID, mRNA expression (RNA Seq V2 RSEM) (log2)</Txt>
      <Txt x={398.7} y={558} bold rotate>BID, mRNA expression (RNA Seq V2 RSEM) (log2)</Txt>
      <Txt x={187} y={756.7} bold>BID, Putative copy-number alterations from GISTIC</Txt>
      <Txt x={578.8} y={757.3} bold>BID, Methylation (HM450)</Txt>

      <Txt x={9.5} y={947} bold rotate>DNAJB1, mRNA expression (RNA Seq V2 RSEM) (log2)</Txt>
      <Txt x={398} y={947} bold rotate>DNAJB1, mRNA expression (RNA Seq V2 RSEM) (log2)</Txt>
      <Txt x={187} y={1150} bold>DNAJB1, Putative copy-number alterations from GISTIC</Txt>
      <Txt x={578} y={1149} bold>DNAJB1, Methylation (HM450)</Txt>

      {/* legends */}
      <LegendDot x={304.7} y={29.3} />
      <Txt x={310.7} y={29.3} size={7.5} align="left">Not mutated</Txt>
      <LegendDot x={683.3} y={25} />
      <Txt x={689} y={25} size={7.5} align="left">Not mutated</Txt>
      <Txt x={683} y={37.7} size={7.5} align="left">Correlation</Txt>
      <Txt x={683} y={47.3} size={7.5} align="left">Pearson: -0.159</Txt>

      <LegendDot x={304.3} y={405.7} />
      <Txt x={310.3} y={405.7} size={7.5} align="left">Not mutated</Txt>
      <LegendDot x={684} y={402.7} />
      <Txt x={690.3} y={402.7} size={7.5} align="left">Not mutated</Txt>
      <Txt x={683.7} y={414} size={7.5} align="left">Correlation</Txt>
      <Txt x={683.7} y={423.7} size={7.5} align="left">Pearson: -0.372</Txt>

      <LegendDot x={301.7} y={793.7} />
      <Txt x={307.3} y={793.7} size={7.5} align="left">Not mutated</Txt>
      <LegendDot x={684} y={789.7} />
      <Txt x={689.7} y={789.7} size={7.5} align="left">Not mutated</Txt>
      <Txt x={683.7} y={800.3} size={7.5} align="left">Correlation</Txt>
      <Txt x={683.7} y={810} size={7.5} align="left">Pearson: -0.007</Txt>
    </div>
  );
}
